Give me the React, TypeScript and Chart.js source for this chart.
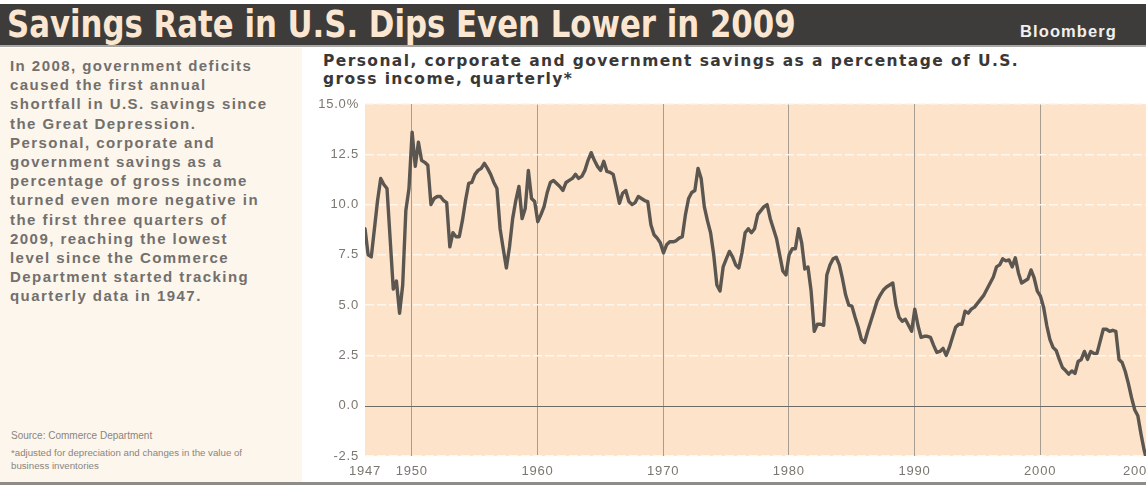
import React, { useEffect, useRef } from 'react';
import { Chart, registerables } from 'chart.js';

Chart.register(...registerables);

const TITLE = 'Savings Rate in U.S. Dips Even Lower in 2009';
const BRAND = 'Bloomberg';
const SUBTITLE_LINES = [
  'Personal, corporate and government savings as a percentage of U.S.',
  'gross income, quarterly*',
];
const NOTE_LINES = [
  'In 2008, government deficits',
  'caused the first annual',
  'shortfall in U.S. savings since',
  'the Great Depression.',
  'Personal, corporate and',
  'government savings as a',
  'percentage of gross income',
  'turned even more negative in',
  'the first three quarters of',
  '2009, reaching the lowest',
  'level since the Commerce',
  'Department started tracking',
  'quarterly data in 1947.',
];
const SOURCE = 'Source: Commerce Department';
const FOOTNOTE_LINES = ['*adjusted for depreciation and changes in the value of', 'business inventories'];

// Quarterly savings rate, % of gross income, starting 1947 Q1 (one row per year)
const START_YEAR = 1947;
const SAVINGS_RATE = [
  8.8, 7.5, 7.4, 8.8, // 1947
  10.2, 11.3, 11.0, 10.8, // 1948
  8.3, 5.8, 6.2, 4.6, // 1949
  6.0, 9.7, 10.8, 13.6, // 1950
  11.9, 13.1, 12.2, 12.1, // 1951
  11.95, 10.0, 10.3, 10.4, // 1952
  10.4, 10.2, 10.1, 7.9, // 1953
  8.6, 8.4, 8.4, 9.2, // 1954
  10.2, 11.05, 11.1, 11.5, // 1955
  11.7, 11.8, 12.05, 11.8, // 1956
  11.5, 11.1, 10.8, 8.8, // 1957
  7.8, 6.85, 7.9, 9.3, // 1958
  10.2, 10.9, 9.3, 9.8, // 1959
  11.7, 10.3, 10.15, 9.15, // 1960
  9.5, 9.9, 10.6, 11.1, // 1961
  11.2, 11.05, 10.9, 10.7, // 1962
  11.1, 11.2, 11.3, 11.5, // 1963
  11.3, 11.4, 11.7, 12.2, // 1964
  12.58, 12.2, 11.9, 11.7, // 1965
  12.15, 11.65, 11.6, 11.5, // 1966
  10.8, 10.06, 10.56, 10.7, // 1967
  10.15, 10.0, 10.1, 10.4, // 1968
  10.3, 10.2, 10.15, 9.0, // 1969
  8.5, 8.33, 8.1, 7.6, // 1970
  8.0, 8.15, 8.15, 8.2, // 1971
  8.33, 8.4, 9.5, 10.3, // 1972
  10.6, 10.7, 11.8, 11.3, // 1973
  9.9, 9.2, 8.6, 7.5, // 1974
  6.0, 5.7, 6.9, 7.3, // 1975
  7.67, 7.4, 7.0, 6.85, // 1976
  7.6, 8.6, 8.8, 8.6, // 1977
  8.8, 9.5, 9.7, 9.9, // 1978
  10.0, 9.3, 8.8, 8.3, // 1979
  7.5, 6.7, 6.5, 7.5, // 1980
  7.8, 7.8, 8.8, 8.1, // 1981
  6.8, 6.9, 5.7, 3.7, // 1982
  4.05, 4.05, 4.0, 6.5, // 1983
  7.0, 7.3, 7.38, 7.0, // 1984
  6.3, 5.5, 5.0, 4.95, // 1985
  4.4, 3.9, 3.3, 3.14, // 1986
  3.7, 4.2, 4.7, 5.2, // 1987
  5.5, 5.75, 5.9, 6.0, // 1988
  6.1, 5.0, 4.4, 4.2, // 1989
  4.3, 4.0, 3.7, 4.8, // 1990
  4.0, 3.4, 3.45, 3.45, // 1991
  3.4, 3.0, 2.65, 2.7, // 1992
  2.85, 2.5, 2.9, 3.4, // 1993
  3.9, 4.05, 4.05, 4.7, // 1994
  4.6, 4.8, 4.9, 5.1, // 1995
  5.3, 5.5, 5.8, 6.1, // 1996
  6.4, 6.9, 7.0, 7.3, // 1997
  7.2, 7.25, 6.9, 7.35, // 1998
  6.6, 6.1, 6.2, 6.3, // 1999
  6.75, 6.35, 5.7, 5.45, // 2000
  4.9, 4.0, 3.3, 2.9, // 2001
  2.75, 2.3, 1.9, 1.75, // 2002
  1.57, 1.73, 1.6, 2.2, // 2003
  2.3, 2.7, 2.3, 2.7, // 2004
  2.6, 2.6, 3.2, 3.8, // 2005
  3.8, 3.7, 3.75, 3.7, // 2006
  2.3, 2.15, 1.7, 1.1, // 2007
  0.4, -0.2, -0.5, -1.4, // 2008
  -2.2, -2.8, -3.0, // 2009
];

const FIRST_LABEL = '1947';
const DECADE_YEARS = [1950, 1960, 1970, 1980, 1990, 2000];
const LAST_LABEL = '2009';
// the chart draws each decade line close to that year's fourth quarter
const DECADE_QUARTER_OFFSET = 2.9;
// visible window, in quarters since 1947 Q1 (the picture is cut off on the right)
const X_VIEW_MIN = 0;
const X_VIEW_MAX = 248.6;
// where the (cut-off) last year label sits, in quarters since 1947 Q1
const LAST_LABEL_AT = 246.4;
const Y_MIN = -2.5;
const Y_MAX = 15;
const Y_STEP = 2.5;

const X_TICK_VALUES = [
  X_VIEW_MIN,
  ...DECADE_YEARS.map((y) => (y - START_YEAR) * 4 + DECADE_QUARTER_OFFSET),
  LAST_LABEL_AT,
];
const X_TICK_LABELS = [FIRST_LABEL, ...DECADE_YEARS.map(String), LAST_LABEL];

const PEACH = '#fde3ca';
const LINE = '#5b5650';
const TICK_TEXT = '#7b7670';

const CANVAS_W = 1200;
const CANVAS_H = 487;

export default function App() {
  const canvasRef = useRef<HTMLCanvasElement | null>(null);

  useEffect(() => {
    document.body.style.margin = '0';
    document.body.style.overflow = 'hidden';
    const canvas = canvasRef.current;
    if (!canvas) return;

    const plotBg = {
      id: 'plotBg',
      beforeDraw(chart: any) {
        const { ctx, chartArea } = chart;
        ctx.save();
        ctx.fillStyle = PEACH;
        ctx.fillRect(chartArea.left, chartArea.top, chartArea.right - chartArea.left, chartArea.bottom - chartArea.top);
        ctx.restore();
        ctx.letterSpacing = '0.8px';
      },
      afterDraw(chart: any) {
        chart.ctx.letterSpacing = '0px';
      },
    };
    const zeroLine = {
      id: 'zeroLine',
      beforeDatasetsDraw(chart: any) {
        const { ctx, chartArea, scales } = chart;
        const y = Math.round(scales.y.getPixelForValue(0)) + 0.5;
        ctx.save();
        ctx.strokeStyle = '#6f6a64';
        ctx.lineWidth = 1.2;
        ctx.beginPath();
        ctx.moveTo(chartArea.left, y);
        ctx.lineTo(chartArea.right, y);
        ctx.stroke();
        ctx.restore();
      },
    };

    const lastIdx = X_TICK_VALUES.length - 1;

    const chart = new Chart(canvas, {
      type: 'line',
      data: {
        datasets: [
          {
            data: SAVINGS_RATE.map((v, i) => ({ x: i, y: v })),
            borderColor: LINE,
            borderWidth: 3.4,
            pointRadius: 0,
            tension: 0,
            borderJoinStyle: 'round',
            borderCapStyle: 'round',
            fill: false,
          },
        ],
      },
      options: {
        animation: false,
        responsive: false,
        devicePixelRatio: 1,
        layout: { padding: { top: 104, right: CANVAS_W - 1146, bottom: 0, left: 0 } },
        plugins: { legend: { display: false }, tooltip: { enabled: false }, title: { display: false } },
        scales: {
          x: {
            type: 'linear',
            min: X_VIEW_MIN,
            max: X_VIEW_MAX,
            afterFit(scale: any) {
              scale.height = 31;
            },
            afterBuildTicks(scale: any) {
              scale.ticks = X_TICK_VALUES.map((v) => ({ value: v }));
            },
            grid: {
              drawTicks: false,
              lineWidth: 1,
              color: (ctx: any) => (ctx.index === 0 || ctx.index === lastIdx ? 'rgba(0,0,0,0)' : '#a69e93'),
            },
            border: { display: false },
            ticks: {
              autoSkip: false,
              maxRotation: 0,
              padding: 8,
              color: TICK_TEXT,
              font: { family: 'Liberation Sans, Arial, sans-serif', size: 13 },
              callback: (_v: any, i: number) => X_TICK_LABELS[i],
            },
          },
          y: {
            min: Y_MIN,
            max: Y_MAX,
            afterFit(scale: any) {
              scale.width = 365;
            },
            grid: {
              drawTicks: false,
              lineWidth: 1.5,
              color: (ctx: any) => (ctx.tick && ctx.tick.value === 0 ? 'rgba(0,0,0,0)' : '#fff7ee'),
            },
            border: { display: false, dash: [9, 3] },
            ticks: {
              stepSize: Y_STEP,
              padding: 6,
              color: TICK_TEXT,
              font: { family: 'Liberation Sans, Arial, sans-serif', size: 13 },
              callback: (v: any) => (v === Y_MAX ? v.toFixed(1) + '%' : Number(v).toFixed(1)),
            },
          },
        },
      },
      plugins: [plotBg, zeroLine],
    });

    return () => chart.destroy();
  }, []);

  const noteStyle: React.CSSProperties = {
    position: 'absolute',
    left: 10,
    top: 56,
    font: 'bold 15px "Liberation Sans", Arial, sans-serif',
    letterSpacing: '1.45px',
    lineHeight: '19.2px',
    color: '#72706d',
    whiteSpace: 'pre',
  };

  return (
    <div
      style={{
        position: 'fixed',
        left: 0,
        top: 0,
        width: 1146,
        height: 487,
        overflow: 'hidden',
        background: '#ffffff',
      }}
    >
      {/* header bar */}
      <div style={{ position: 'absolute', left: 0, top: 4, width: 1146, height: 41, background: '#3e3c3a' }} />
      <div style={{ position: 'absolute', left: 0, top: 45, width: 1146, height: 2, background: '#a9a7a4' }} />
      <div
        style={{
          position: 'absolute',
          left: 7,
          top: 4,
          height: 41,
          font: 'bold 37px "DejaVu Sans Condensed", "Liberation Sans Narrow", sans-serif',
          lineHeight: '42px',
          color: '#fbe7d1',
          whiteSpace: 'pre',
          transform: 'scaleX(0.925)',
          transformOrigin: 'left center',
        }}
      >
        {TITLE}
      </div>
      <div
        style={{
          position: 'absolute',
          left: 1020,
          top: 21,
          font: 'bold 16.5px "Liberation Sans", Arial, sans-serif',
          lineHeight: '20px',
          letterSpacing: '1.1px',
          color: '#f2efec',
          whiteSpace: 'pre',
        }}
      >
        {BRAND}
      </div>

      {/* left note panel */}
      <div style={{ position: 'absolute', left: 0, top: 48, width: 302, height: 434, background: '#fdf6ec' }} />
      <div style={noteStyle}>{NOTE_LINES.join('\n')}</div>
      <div
        style={{
          position: 'absolute',
          left: 11,
          top: 430,
          font: '10px "Liberation Sans", Arial, sans-serif',
          color: '#8a8580',
          whiteSpace: 'pre',
        }}
      >
        {SOURCE}
      </div>
      <div
        style={{
          position: 'absolute',
          left: 11,
          top: 446,
          font: '9.7px "Liberation Sans", Arial, sans-serif',
          lineHeight: '13px',
          color: '#8a8580',
          whiteSpace: 'pre',
        }}
      >
        {FOOTNOTE_LINES.join('\n')}
      </div>

      {/* chart subtitle */}
      <div
        style={{
          position: 'absolute',
          left: 323,
          top: 52,
          font: 'bold 15.5px "DejaVu Sans", sans-serif',
          letterSpacing: '1.4px',
          lineHeight: '18px',
          color: '#3a3836',
          whiteSpace: 'pre',
        }}
      >
        {SUBTITLE_LINES.join('\n')}
      </div>

      <div style={{ position: 'absolute', left: 0, top: 0, width: CANVAS_W, height: CANVAS_H }}>
        <canvas ref={canvasRef} width={CANVAS_W} height={CANVAS_H} style={{ width: CANVAS_W, height: CANVAS_H }} />
      </div>

      {/* bottom rule */}
      <div style={{ position: 'absolute', left: 0, top: 482, width: 1146, height: 3, background: '#8e8c89' }} />
    </div>
  );
}
